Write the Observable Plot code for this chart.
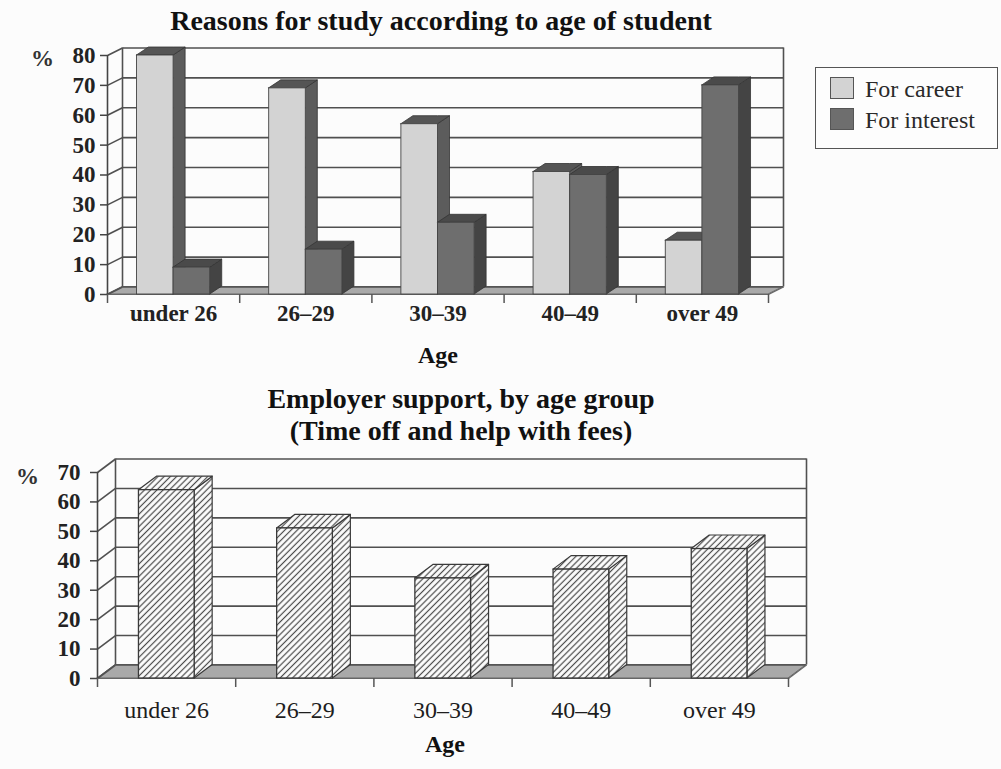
<!DOCTYPE html>
<html>
<head>
<meta charset="utf-8">
<script src="https://cdn.jsdelivr.net/npm/d3@7"></script>
<script src="https://cdn.jsdelivr.net/npm/@observablehq/plot@0.6"></script>
<style>
  html, body { margin: 0; padding: 0; background: #fcfcfc; }
  body { font-family: "Liberation Serif", "Times New Roman", serif; color: #222; }
  #wrap { position: relative; width: 1001px; height: 769px; overflow: hidden; }
  #chart1, #chart2 { position: absolute; left: 0; }
  #chart1 { top: 0; }
  #chart2 { top: 370px; }
  #legend {
    position: absolute; left: 815px; top: 67px; width: 183px; height: 82px;
    box-sizing: border-box; border: 1.5px solid #555; background: #fdfdfd;
    font-size: 24px; color: #2a2a2a;
  }
  #legend .item { position: absolute; left: 14px; height: 24px; line-height: 24px; white-space: nowrap; }
  #legend .sw { display: inline-block; width: 24px; height: 22px; vertical-align: top; margin-right: 11px; box-sizing: border-box; border: 1px solid #555; }
</style>
</head>
<body>
<div id="wrap">
  <div id="chart1"></div>
  <div id="chart2"></div>
  <div id="legend"></div>
</div>
<script>
// ---------- data ----------
const ageGroups = ["under 26", "26–29", "30–39", "40–49", "over 49"];
const forCareer = [80, 69, 57, 41, 18];
const forInterest = [9, 15, 24, 40, 70];
const employerSupport = [64, 51, 34, 37, 44];
const yTicksTop = [0, 10, 20, 30, 40, 50, 60, 70, 80];
const yTicksBottom = [0, 10, 20, 30, 40, 50, 60, 70];
const seriesNames = ["For career", "For interest"];
const titleTop = "Reasons for study according to age of student";
const titleBottom = ["Employer support, by age group", "(Time off and help with fees)"];
const axisLabel = "Age";

const W = 1001;
const FONT = "Liberation Serif, Times New Roman, serif";
const grid = "#505050";
const colors = {
  careerFront: "#d3d3d3", careerSide: "#5c5c5c", careerTop: "#555555",
  interestFront: "#6e6e6e", interestSide: "#444444", interestTop: "#4a4a4a",
  floor: "#a9a9a9"
};

function svgOf(node) {
  return node.tagName.toLowerCase() === "svg" ? node : node.querySelector("svg");
}

// faces of a 3D bar in data units
function sideFace(b, dx, dy) {
  return [
    {id: b.id, x: b.x2, y1: 0, y2: b.v},
    {id: b.id, x: b.x2 + dx, y1: dy, y2: b.v + dy}
  ];
}
function topFace(b, dx, dy) {
  return [
    {id: b.id, x: b.x1, y1: b.v, y2: b.v},
    {id: b.id, x: b.x1 + dx, y1: b.v, y2: b.v + dy},
    {id: b.id, x: b.x2, y1: b.v, y2: b.v + dy},
    {id: b.id, x: b.x2 + dx, y1: b.v + dy, y2: b.v + dy}
  ];
}
function floorFace(n, dx, dy) {
  return [
    {x: 0, y1: 0, y2: 0},
    {x: dx, y1: 0, y2: dy},
    {x: n, y1: 0, y2: dy},
    {x: n + dx, y1: dy, y2: dy}
  ];
}
function wallMarks(n, yTicks, wdx, wdy, floorFill) {
  const yMax = d3.max(yTicks);
  return [
    Plot.area(floorFace(n, wdx, wdy), {x1: "x", y1: "y1", y2: "y2", fill: floorFill, stroke: "#666", strokeWidth: 1}),
    Plot.link(yTicks, {x1: () => wdx, x2: () => n + wdx, y1: d => d + wdy, y2: d => d + wdy, stroke: grid, strokeWidth: 1.6}),
    Plot.link(yTicks, {x1: () => 0, x2: () => wdx, y1: d => d, y2: d => d + wdy, stroke: grid, strokeWidth: 1.6}),
    Plot.ruleX([wdx, n + wdx], {y1: () => wdy, y2: () => yMax + wdy, stroke: grid, strokeWidth: 1.6}),
    Plot.ruleX([0], {y1: () => 0, y2: () => yMax, stroke: "#444", strokeWidth: 1.6}),
    Plot.ruleY([0], {x1: () => 0, x2: () => n, stroke: "#666", strokeWidth: 1.2})
  ];
}

// ---------- chart 1 ----------
(function () {
  const H = 365, ml = 107, mr = W - 768, mt = 55, mb = H - 294;
  const n = ageGroups.length;
  const yMax = d3.max(yTicksTop);
  const pxX = (W - ml - mr) / n, pxY = (H - mt - mb) / yMax;
  const wdx = 15 / pxX, wdy = 7.5 / pxY;
  const bdx = 12 / pxX, bdy = 8 / pxY;

  const career = ageGroups.map((g, i) => ({id: "c" + i, x1: i + 0.223, x2: i + 0.5, v: forCareer[i]}));
  const interest = ageGroups.map((g, i) => ({id: "i" + i, x1: i + 0.5, x2: i + 0.777, v: forInterest[i]}));

  const barMarks = (bars, front, side, top) => [
    Plot.area(bars.flatMap(b => sideFace(b, bdx, bdy)), {x1: "x", y1: "y1", y2: "y2", z: "id", fill: side, stroke: "#333", strokeWidth: 0.8}),
    Plot.area(bars.flatMap(b => topFace(b, bdx, bdy)), {x1: "x", y1: "y1", y2: "y2", z: "id", fill: top, stroke: "#333", strokeWidth: 0.8}),
    Plot.rect(bars, {x1: "x1", x2: "x2", y1: () => 0, y2: "v", fill: front, stroke: "#444", strokeWidth: 0.9})
  ];

  const chart = Plot.plot({
    width: W, height: H,
    marginLeft: ml, marginRight: mr, marginTop: mt, marginBottom: mb,
    x: {domain: [0, n], axis: null},
    y: {domain: [0, yMax], axis: null},
    style: {background: "transparent", fontFamily: FONT, color: "#222", overflow: "visible"},
    marks: [
      ...wallMarks(n, yTicksTop, wdx, wdy, colors.floor),
      Plot.link([0], {x1: () => n, y1: () => 0, x2: () => n + wdx, y2: () => wdy, stroke: "#666", strokeWidth: 1.2}),
      ...barMarks(career, colors.careerFront, colors.careerSide, colors.careerTop),
      ...barMarks(interest, colors.interestFront, colors.interestSide, colors.interestTop),
      Plot.axisY({ticks: yTicksTop, tickSize: 7, tickPadding: 5, fontSize: 23, fontWeight: "bold", label: null, stroke: "#444", strokeWidth: 1.5}),
      Plot.axisX({ticks: d3.range(n + 1), tickSize: 9, tickFormat: () => "", label: null, stroke: "#555", strokeWidth: 1.5}),
      Plot.text(ageGroups, {x: (d, i) => i + 0.5, frameAnchor: "bottom", lineAnchor: "middle", dy: 19, fontSize: 23, fontWeight: "bold", fill: "#222"}),
      Plot.text([axisLabel], {frameAnchor: "bottom", lineAnchor: "middle", dy: 61, fontSize: 24, fontWeight: "bold", fill: "#111"}),
      Plot.text(["%"], {frameAnchor: "top-left", textAnchor: "middle", lineAnchor: "middle", dx: -65, dy: 3, fontSize: 23, fontWeight: "bold", fill: "#333"}),
      Plot.text([titleTop], {frameAnchor: "top", lineAnchor: "middle", dx: 3, dy: -34, fontSize: 28, fontWeight: "bold", fill: "#111"})
    ]
  });
  document.getElementById("chart1").appendChild(chart);
})();

// ---------- chart 2 ----------
(function () {
  const H = 399, ml = 97, mr = W - 788, mt = 102, mb = H - 308;
  const n = ageGroups.length;
  const yMax = d3.max(yTicksBottom);
  const pxX = (W - ml - mr) / n, pxY = (H - mt - mb) / yMax;
  const wdx = 18 / pxX, wdy = 13.5 / pxY;
  const bdx = 18 / pxX, bdy = 13.5 / pxY;

  const bars = ageGroups.map((g, i) => ({id: "e" + i, x1: i + 0.3, x2: i + 0.703, v: employerSupport[i]}));

  const chart = Plot.plot({
    width: W, height: H,
    marginLeft: ml, marginRight: mr, marginTop: mt, marginBottom: mb,
    x: {domain: [0, n], axis: null},
    y: {domain: [0, yMax], axis: null},
    style: {background: "transparent", fontFamily: FONT, color: "#222", overflow: "visible"},
    marks: [
      ...wallMarks(n, yTicksBottom, wdx, wdy, colors.floor),
      Plot.link([0], {x1: () => n, y1: () => 0, x2: () => n + wdx, y2: () => wdy, stroke: "#666", strokeWidth: 1.2}),
      Plot.area(bars.flatMap(b => sideFace(b, bdx, bdy)), {x1: "x", y1: "y1", y2: "y2", z: "id", fill: "url(#hatch)", stroke: "#3a3a3a", strokeWidth: 1.2}),
      Plot.area(bars.flatMap(b => topFace(b, bdx, bdy)), {x1: "x", y1: "y1", y2: "y2", z: "id", fill: "url(#hatch)", stroke: "#3a3a3a", strokeWidth: 1.2}),
      Plot.rect(bars, {x1: "x1", x2: "x2", y1: () => 0, y2: "v", fill: "url(#hatch)", stroke: "#3a3a3a", strokeWidth: 1.3}),
      Plot.axisY({ticks: yTicksBottom, tickSize: 7, tickPadding: 10, fontSize: 23, fontWeight: "bold", label: null, stroke: "#444", strokeWidth: 1.5}),
      Plot.axisX({ticks: d3.range(n + 1), tickSize: 9, tickFormat: () => "", label: null, stroke: "#555", strokeWidth: 1.5}),
      Plot.text(ageGroups, {x: (d, i) => i + 0.5, frameAnchor: "bottom", lineAnchor: "middle", dy: 32, fontSize: 24, fill: "#1e1e1e"}),
      Plot.text([axisLabel], {frameAnchor: "bottom", lineAnchor: "middle", dy: 66, dx: 2, fontSize: 24, fontWeight: "bold", fill: "#111"}),
      Plot.text(["%"], {frameAnchor: "top-left", textAnchor: "middle", lineAnchor: "middle", dx: -70, dy: 4, fontSize: 23, fontWeight: "bold", fill: "#333"}),
      Plot.text([titleBottom[0]], {frameAnchor: "top", lineAnchor: "middle", dx: 18, dy: -73, fontSize: 28, fontWeight: "bold", fill: "#111"}),
      Plot.text([titleBottom[1]], {frameAnchor: "top", lineAnchor: "middle", dx: 18, dy: -41, fontSize: 28, fontWeight: "bold", fill: "#111"})
    ]
  });
  const svg = d3.select(svgOf(chart));
  const s = 4.4;
  const pat = svg.insert("defs", ":first-child").append("pattern")
    .attr("id", "hatch").attr("patternUnits", "userSpaceOnUse")
    .attr("width", s).attr("height", s).attr("patternTransform", "rotate(45)");
  pat.append("rect").attr("width", s).attr("height", s).attr("fill", "#fdfdfd");
  pat.append("line").attr("x1", s / 2).attr("y1", -1).attr("x2", s / 2).attr("y2", s + 1)
    .attr("stroke", "#4a4a4a").attr("stroke-width", 1.2);
  document.getElementById("chart2").appendChild(chart);
})();

// ---------- legend ----------
(function () {
  const legend = d3.select("#legend");
  const fills = [colors.careerFront, colors.interestFront];
  seriesNames.forEach((name, i) => {
    const item = legend.append("div").attr("class", "item").style("top", (9 + i * 31) + "px");
    item.append("span").attr("class", "sw").style("background", fills[i]);
    item.append("span").text(name);
  });
})();
</script>
</body>
</html>
